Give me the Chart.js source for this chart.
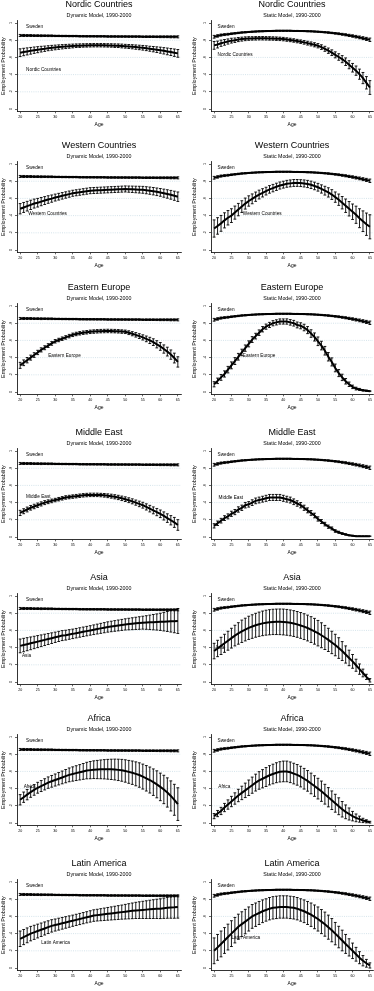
<!DOCTYPE html>
<html><head><meta charset="utf-8">
<script src="https://cdn.jsdelivr.net/npm/chart.js@4.4.0/dist/chart.umd.min.js"></script>
<style>
html,body{margin:0;padding:0;background:#fff;}
body{width:374px;height:991px;position:relative;overflow:hidden;}
canvas{position:absolute;}
</style></head><body>
<script>
const ages = [20,21,22,23,24,25,26,27,28,29,30,31,32,33,34,35,36,37,38,39,40,41,42,43,44,45,46,47,48,49,50,51,52,53,54,55,56,57,58,59,60,61,62,63,64,65];
const xTickValues = [20,25,30,35,40,45,50,55,60,65];
const yTickValues = [0,.2,.4,.6,.8,1];
const yTickLabels = ['0','.2','.4','.6','.8','1'];
const gridValues = [.2,.4,.6,.8];
const regions = ['Nordic Countries','Western Countries','Eastern Europe','Middle East','Asia','Africa','Latin America'];
const models = ['Dynamic Model, 1990-2000','Static Model, 1990-2000'];

const swedenDynamic = [.855,.855,.854,.854,.853,.853,.852,.852,.851,.851,.850,.850,.849,.849,.848,.848,.848,.847,.847,.846,.846,.846,.845,.845,.845,.844,.844,.844,.843,.843,.843,.842,.842,.842,.842,.841,.841,.841,.841,.840,.840,.840,.840,.839,.839,.839];
const swedenDynamicErr = [.012,.012,.011,.011,.010,.010,.010,.009,.009,.009,.008,.008,.008,.008,.008,.008,.008,.008,.008,.008,.008,.008,.008,.008,.008,.008,.008,.008,.008,.008,.008,.008,.008,.008,.008,.008,.009,.009,.009,.009,.010,.010,.010,.011,.011,.012];
const swedenStatic = [.840,.850,.860,.865,.870,.875,.880,.885,.890,.893,.896,.899,.901,.903,.905,.906,.907,.908,.909,.909,.909,.909,.909,.908,.908,.907,.906,.905,.903,.901,.899,.896,.893,.889,.885,.880,.875,.869,.863,.856,.849,.841,.833,.824,.815,.805];
const swedenStaticErr = [.016,.014,.012,.011,.010,.009,.008,.008,.007,.007,.006,.006,.006,.006,.006,.006,.006,.006,.006,.006,.006,.006,.006,.006,.006,.006,.006,.006,.006,.006,.006,.007,.007,.008,.008,.009,.010,.011,.012,.013,.014,.015,.016,.017,.018,.020];

const nordicDynamic = [.655,.663,.670,.677,.684,.690,.696,.701,.707,.712,.716,.720,.724,.727,.730,.733,.736,.737,.739,.740,.741,.742,.742,.742,.741,.740,.739,.737,.736,.733,.730,.727,.724,.720,.716,.712,.707,.701,.696,.690,.684,.677,.670,.663,.655,.647];
const nordicDynamicErr = [.045,.043,.041,.039,.037,.035,.033,.031,.029,.028,.027,.026,.025,.024,.023,.022,.021,.021,.020,.020,.020,.020,.020,.020,.020,.020,.020,.021,.021,.022,.022,.023,.024,.025,.026,.027,.028,.029,.031,.033,.035,.037,.039,.041,.043,.045];
const nordicStatic = [.740,.750,.765,.775,.785,.795,.800,.808,.813,.817,.820,.821,.822,.823,.823,.822,.821,.820,.818,.816,.813,.808,.803,.797,.790,.783,.775,.766,.757,.747,.736,.720,.700,.678,.655,.630,.605,.580,.550,.515,.480,.446,.405,.360,.305,.250];
const nordicStaticErr = [.045,.040,.036,.033,.030,.028,.026,.024,.023,.022,.021,.020,.020,.020,.020,.020,.020,.020,.020,.020,.020,.020,.020,.020,.020,.020,.021,.022,.023,.024,.025,.027,.029,.031,.033,.035,.038,.041,.044,.047,.050,.054,.059,.065,.072,.080];

const westernDynamic = [.480,.495,.510,.525,.540,.550,.563,.575,.587,.598,.610,.620,.630,.640,.650,.660,.666,.672,.678,.684,.690,.692,.694,.696,.698,.700,.702,.704,.706,.708,.710,.708,.706,.704,.702,.700,.695,.690,.684,.677,.670,.661,.652,.642,.631,.620];
const westernDynamicErr = [.060,.058,.056,.054,.052,.050,.048,.046,.044,.042,.040,.039,.038,.037,.036,.035,.035,.035,.035,.035,.035,.035,.035,.035,.035,.035,.035,.035,.035,.035,.035,.036,.037,.038,.039,.040,.041,.042,.043,.044,.045,.047,.049,.051,.053,.055];
const westernStatic = [.250,.280,.310,.345,.375,.400,.435,.470,.505,.540,.570,.595,.620,.645,.665,.685,.705,.720,.735,.750,.760,.770,.775,.780,.780,.778,.774,.768,.758,.745,.730,.710,.690,.670,.645,.615,.585,.550,.515,.480,.445,.410,.370,.335,.300,.270];
const westernStaticErr = [.100,.096,.092,.088,.084,.080,.076,.072,.068,.064,.060,.057,.054,.051,.048,.045,.044,.043,.042,.041,.040,.040,.040,.040,.040,.040,.041,.042,.043,.044,.045,.048,.051,.054,.057,.060,.066,.072,.078,.084,.090,.100,.110,.120,.130,.140];

const easternDynamic = [.310,.340,.370,.400,.430,.460,.490,.515,.540,.565,.590,.605,.620,.635,.650,.665,.675,.683,.690,.695,.700,.703,.706,.708,.709,.710,.709,.708,.706,.703,.700,.690,.678,.665,.650,.635,.618,.600,.580,.555,.530,.500,.470,.435,.395,.350];
const easternDynamicErr = [.035,.033,.031,.029,.027,.025,.024,.023,.022,.021,.020,.020,.020,.020,.020,.020,.020,.020,.020,.020,.020,.020,.020,.020,.020,.020,.020,.020,.020,.020,.020,.022,.024,.026,.028,.030,.033,.036,.039,.042,.045,.048,.051,.054,.057,.060];
const easternStatic = [.09,.13,.17,.21,.26,.31,.36,.41,.46,.51,.56,.61,.65,.69,.73,.76,.78,.80,.81,.82,.82,.82,.81,.80,.78,.77,.75,.72,.68,.64,.59,.54,.48,.41,.35,.28,.22,.17,.125,.09,.06,.04,.03,.02,.015,.01];
const easternStaticErr = [.030,.032,.034,.036,.038,.040,.040,.039,.038,.037,.035,.034,.033,.032,.031,.030,.030,.030,.030,.030,.030,.031,.032,.033,.034,.035,.038,.041,.044,.047,.050,.050,.050,.049,.047,.045,.041,.037,.032,.026,.020,.016,.012,.009,.007,.005];

const middleEastDynamic = [.280,.300,.320,.340,.355,.370,.385,.400,.410,.420,.430,.440,.450,.460,.465,.470,.475,.480,.485,.488,.490,.490,.490,.488,.485,.480,.475,.468,.460,.450,.440,.428,.415,.400,.385,.370,.350,.330,.310,.290,.270,.245,.220,.195,.170,.140];
const middleEastDynamicErr = [.030,.029,.028,.027,.026,.025,.024,.023,.022,.021,.020,.020,.020,.020,.020,.020,.020,.020,.020,.020,.020,.020,.020,.020,.021,.022,.023,.024,.025,.026,.027,.028,.029,.030,.032,.034,.036,.038,.040,.042,.044,.047,.050,.054,.058,.062];
const middleEastStatic = [.13,.16,.19,.22,.24,.27,.29,.32,.34,.37,.38,.40,.42,.43,.44,.45,.46,.46,.46,.46,.45,.44,.43,.41,.39,.37,.34,.31,.28,.25,.21,.18,.15,.12,.10,.07,.055,.04,.03,.02,.015,.01,.01,.01,.01,.01];
const middleEastStaticErr = [.025,.026,.027,.028,.029,.030,.030,.031,.031,.032,.032,.033,.033,.034,.034,.035,.035,.035,.035,.035,.035,.034,.034,.033,.032,.031,.030,.029,.028,.027,.025,.023,.021,.019,.017,.015,.012,.010,.008,.006,.005,.004,.003,.002,.002,.002];

const asiaDynamic = [.42,.43,.44,.45,.46,.47,.48,.49,.50,.51,.52,.53,.54,.545,.553,.56,.568,.576,.584,.592,.60,.608,.616,.624,.632,.64,.646,.652,.658,.664,.67,.674,.678,.682,.686,.69,.692,.694,.696,.698,.70,.702,.704,.706,.708,.71];
const asiaDynamicErr = [.08,.078,.076,.074,.072,.07,.068,.066,.064,.062,.06,.059,.058,.057,.056,.055,.055,.055,.055,.055,.055,.056,.057,.058,.059,.06,.061,.062,.063,.064,.065,.067,.069,.071,.073,.075,.079,.084,.089,.094,.1,.108,.116,.125,.135,.145];
const asiaStatic = [.36,.39,.42,.45,.48,.51,.54,.565,.59,.61,.63,.645,.66,.672,.682,.69,.695,.699,.70,.70,.698,.694,.688,.68,.67,.658,.644,.628,.61,.59,.568,.544,.518,.49,.46,.43,.395,.36,.32,.28,.24,.195,.15,.105,.06,.02];
const asiaStaticErr = [.09,.095,.1,.105,.11,.115,.12,.125,.13,.132,.135,.137,.139,.141,.143,.145,.146,.147,.148,.149,.15,.15,.15,.15,.15,.15,.15,.15,.15,.15,.148,.145,.14,.135,.13,.125,.12,.11,.1,.09,.08,.07,.06,.045,.03,.02];

const africaDynamic = [.27,.30,.33,.36,.385,.41,.43,.45,.47,.485,.50,.515,.53,.545,.56,.57,.58,.59,.60,.61,.615,.62,.622,.624,.625,.625,.624,.622,.618,.613,.605,.595,.585,.572,.558,.54,.52,.50,.475,.45,.42,.39,.355,.315,.27,.22];
const africaDynamicErr = [.06,.06,.06,.061,.062,.063,.064,.065,.066,.068,.07,.072,.074,.077,.08,.083,.086,.089,.092,.096,.1,.103,.106,.109,.112,.115,.118,.121,.124,.127,.13,.133,.136,.139,.142,.145,.148,.151,.154,.157,.16,.165,.17,.175,.18,.19];
const africaStatic = [.08,.11,.14,.18,.215,.25,.285,.32,.35,.38,.41,.44,.47,.495,.515,.535,.555,.57,.585,.595,.60,.60,.59,.575,.56,.54,.515,.49,.46,.43,.40,.37,.335,.30,.265,.23,.195,.16,.13,.105,.08,.06,.045,.03,.02,.01];
const africaStaticErr = [.03,.036,.042,.048,.054,.06,.066,.072,.078,.084,.09,.094,.098,.102,.106,.11,.112,.114,.116,.118,.12,.12,.12,.12,.12,.12,.12,.12,.12,.12,.12,.118,.115,.112,.108,.104,.098,.09,.08,.07,.055,.045,.035,.025,.018,.01];

const latinDynamic = [.34,.36,.38,.40,.415,.43,.445,.46,.475,.49,.50,.51,.52,.53,.54,.55,.56,.57,.58,.59,.60,.61,.615,.62,.625,.63,.635,.64,.645,.65,.655,.66,.665,.67,.673,.676,.679,.682,.685,.688,.69,.695,.70,.703,.706,.71];
const latinDynamicErr = [.09,.088,.086,.084,.082,.08,.078,.076,.074,.072,.07,.069,.068,.067,.066,.065,.065,.065,.065,.065,.066,.067,.068,.07,.072,.074,.076,.078,.08,.082,.085,.088,.091,.094,.097,.1,.103,.106,.109,.112,.115,.118,.121,.124,.127,.13];
const latinStatic = [.20,.24,.28,.32,.36,.40,.44,.48,.51,.54,.57,.60,.62,.64,.66,.675,.69,.70,.705,.71,.71,.71,.705,.70,.69,.675,.66,.64,.62,.595,.57,.54,.51,.475,.44,.40,.36,.32,.28,.24,.20,.16,.12,.085,.055,.03];
const latinStaticErr = [.15,.15,.15,.15,.15,.15,.148,.146,.144,.142,.14,.138,.136,.134,.132,.13,.13,.13,.13,.13,.13,.13,.13,.13,.13,.13,.132,.134,.136,.138,.14,.14,.14,.14,.135,.13,.125,.12,.11,.1,.09,.08,.07,.06,.045,.03];

const groupSeries = [
  [nordicDynamic, nordicDynamicErr, nordicStatic, nordicStaticErr],
  [westernDynamic, westernDynamicErr, westernStatic, westernStaticErr],
  [easternDynamic, easternDynamicErr, easternStatic, easternStaticErr],
  [middleEastDynamic, middleEastDynamicErr, middleEastStatic, middleEastStaticErr],
  [asiaDynamic, asiaDynamicErr, asiaStatic, asiaStaticErr],
  [africaDynamic, africaDynamicErr, africaStatic, africaStaticErr],
  [latinDynamic, latinDynamicErr, latinStatic, latinStaticErr]
];
const labelAnchors = [
  [[21.7,.955],[21.7,.46],[21,.96],[21,.63]],
  [[21.7,.955],[22.3,.42],[21,.96],[28.3,.42]],
  [[21.7,.955],[28,.42],[21,.96],[28.3,.42]],
  [[21.7,.955],[21.7,.47],[21,.96],[21.3,.46]],
  [[21.7,.955],[20.5,.31],[21,.96],[20.3,.40]],
  [[21.7,.955],[21,.42],[21,.96],[21.2,.42]],
  [[21.7,.955],[26,.30],[21,.96],[25,.35]]
];

const rowTitleY = [4.5,146,288,433,578,719,864];
const FONT = "'Liberation Sans', Arial, Helvetica, sans-serif";

const gridPlugin = {
  id:'stataGrid',
  beforeDatasetsDraw(chart){
    const {ctx, chartArea:a, scales:{y}} = chart;
    ctx.save();
    ctx.strokeStyle = 'rgba(160,195,210,0.75)';
    ctx.lineWidth = 0.6;
    ctx.setLineDash([1,1.2]);
    gridValues.forEach(v=>{
      const py = y.getPixelForValue(v);
      ctx.beginPath(); ctx.moveTo(a.left+1, py); ctx.lineTo(a.right, py); ctx.stroke();
    });
    ctx.restore();
  }
};
const errorBarPlugin = {
  id:'errorBars',
  afterDatasetsDraw(chart){
    const {ctx, scales:{x,y}} = chart;
    ctx.save();
    ctx.strokeStyle = '#000';
    ctx.lineWidth = 0.9;
    chart.data.datasets.forEach(ds=>{
      const err = ds.errors; if(!err) return;
      ds.data.forEach((p,i)=>{
        const px = x.getPixelForValue(p.x);
        const lo = y.getPixelForValue(p.y - err[i]);
        const hi = y.getPixelForValue(p.y + err[i]);
        ctx.beginPath();
        ctx.moveTo(px, lo); ctx.lineTo(px, hi);
        ctx.moveTo(px-1.4, lo); ctx.lineTo(px+1.4, lo);
        ctx.moveTo(px-1.4, hi); ctx.lineTo(px+1.4, hi);
        ctx.stroke();
      });
    });
    ctx.restore();
  }
};
const yLabelPlugin = {
  id:'yRotLabels',
  afterDraw(chart){
    const {ctx, chartArea:a, scales:{y}} = chart;
    ctx.save();
    ctx.fillStyle = '#000';
    ctx.font = '3.6px ' + FONT;
    ctx.textAlign = 'center';
    ctx.textBaseline = 'middle';
    yTickValues.forEach((v,i)=>{
      const py = y.getPixelForValue(v);
      ctx.save();
      ctx.translate(a.left - 6, py);
      ctx.rotate(-Math.PI/2);
      ctx.fillText(yTickLabels[i], 0, 0);
      ctx.restore();
    });
    ctx.restore();
  }
};
const seriesLabelPlugin = {
  id:'seriesLabels',
  afterDraw(chart, args, opts){
    const {ctx, scales:{x,y}} = chart;
    ctx.save();
    ctx.fillStyle = '#000';
    ctx.font = '4.7px ' + FONT;
    ctx.textAlign = 'left';
    ctx.textBaseline = 'middle';
    (opts.items||[]).forEach(it=>{
      ctx.fillText(it.text, x.getPixelForValue(it.x), y.getPixelForValue(it.y));
    });
    ctx.restore();
  }
};

function makePanel(r, c){
  const cv = document.createElement('canvas');
  const W = 187, H = 136;
  cv.width = W; cv.height = H;
  cv.style.width = W+'px'; cv.style.height = H+'px';
  cv.style.left = (c*187)+'px';
  cv.style.top = (rowTitleY[r]-7)+'px';
  document.body.appendChild(cv);
  const sw = c===0 ? swedenDynamic : swedenStatic;
  const swe = c===0 ? swedenDynamicErr : swedenStaticErr;
  const g = groupSeries[r][c*2], ge = groupSeries[r][c*2+1];
  const la = labelAnchors[r];
  const yW = c===0 ? 17 : 24;
  new Chart(cv, {
    type:'line',
    data:{datasets:[
      {label:'Sweden', data: ages.map((a,i)=>({x:a,y:sw[i]})), errors: swe,
       borderColor:'#000', borderWidth:2, pointRadius:0, tension:0, fill:false},
      {label: regions[r], data: ages.map((a,i)=>({x:a,y:g[i]})), errors: ge,
       borderColor:'#000', borderWidth:2, pointRadius:0, tension:0, fill:false}
    ]},
    options:{
      responsive:false, animation:false, devicePixelRatio:1,
      layout:{padding:{left:0, right: c===0?6:1, top:0, bottom:6}},
      plugins:{
        legend:{display:false}, tooltip:{enabled:false},
        title:{display:true, fullSize:false, text: regions[r], color:'#000',
               font:{size:9, family:FONT, weight:'normal'}, padding:{top:1.6,bottom:0}},
        subtitle:{display:true, fullSize:false, text: models[c], color:'#000',
               font:{size:5.3, family:FONT, weight:'normal'}, padding:{top:1.92,bottom:2.02}},
        seriesLabels:{items:[
          {text:'Sweden', x: la[c*2][0], y: la[c*2][1]},
          {text: regions[r], x: la[c*2+1][0], y: la[c*2+1][1]}
        ]}
      },
      scales:{
        x:{type:'linear', min:19.1, max:65.9,
           afterBuildTicks: ax=>{ ax.ticks = xTickValues.map(v=>({value:v})); },
           afterFit: ax=>{ ax.height = 16.66; },
           ticks:{autoSkip:false, maxRotation:0, minRotation:0, padding:1, color:'#000',
                  font:{size:3.6, family:FONT}, callback:(v)=>String(v)},
           grid:{drawOnChartArea:false, drawTicks:true, tickLength:2, color:'#000', lineWidth:0.6},
           border:{display:true, color:'#000', width:0.8},
           title:{display:true, text:'Age', color:'#000', font:{size:5, family:FONT}, padding:0}},
        y:{type:'linear', min:-0.027, max:1.027,
           afterBuildTicks: ax=>{ ax.ticks = yTickValues.map(v=>({value:v})); },
           afterFit: ax=>{ ax.width = yW; },
           ticks:{display:false},
           grid:{drawOnChartArea:false, drawTicks:true, tickLength:2, color:'#000', lineWidth:0.6},
           border:{display:true, color:'#000', width:0.8},
           title:{display:true, text:'Employment Probability', color:'#000',
                  font:{size:5.5, family:FONT}, padding:{top: c===0?0:4, bottom:0}}}
      }
    },
    plugins:[gridPlugin, errorBarPlugin, yLabelPlugin, seriesLabelPlugin]
  });
}
for(let r=0;r<7;r++){ makePanel(r,0); makePanel(r,1); }
</script>
</body></html>
